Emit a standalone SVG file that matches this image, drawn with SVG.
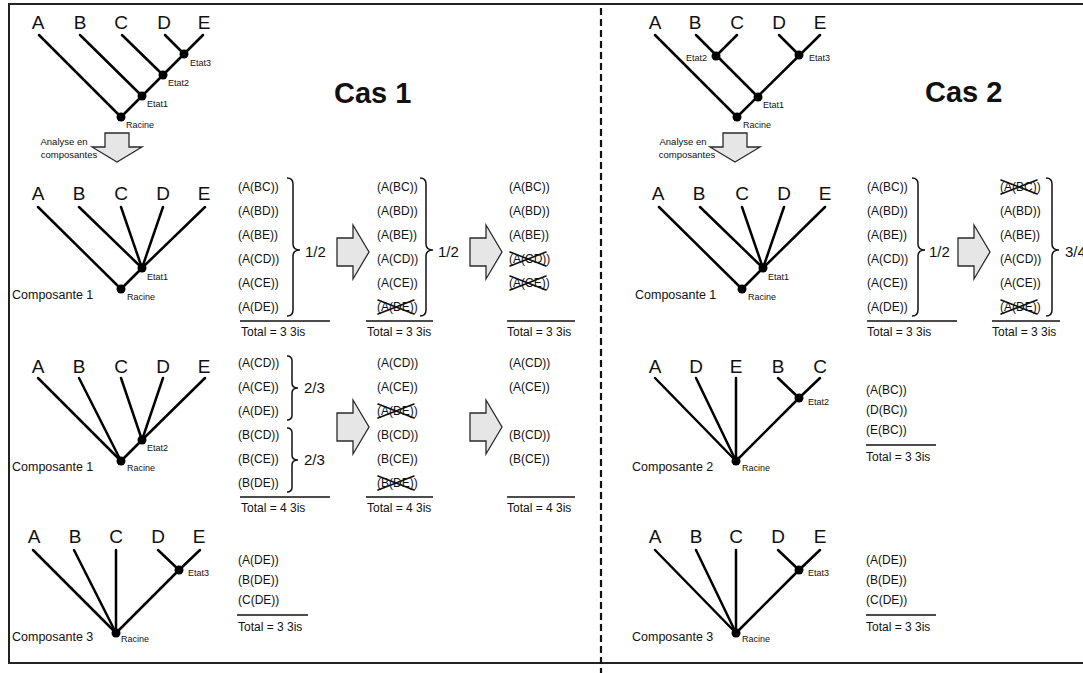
<svg xmlns="http://www.w3.org/2000/svg" width="1083" height="673" viewBox="0 0 1083 673">
  <style>
    text { font-family: "Liberation Sans", Arial, sans-serif; fill: #111; }
    .leaf { font-size: 19px; text-anchor: middle; }
    .lbl { font-size: 9px; }
    .lbl-end { font-size: 9px; text-anchor: end; }
    .comp { font-size: 12.5px; }
    .it { font-size: 12px; }
    .frac { font-size: 15px; }
    .title { font-size: 29px; font-weight: bold; }
    .note { font-size: 9.5px; text-anchor: middle; }
    .edge { stroke: #000; stroke-width: 2.5; stroke-linecap: round; fill: none; }
    .dot { fill: #000; }
    .rule { stroke: #111; stroke-width: 1.6; }
    .brace { fill: none; stroke: #111; stroke-width: 1.5; }
    .blk { fill: #e6e6e6; stroke: #2a2a2a; stroke-width: 1.3; }
    .x { stroke: #111; stroke-width: 1.6; stroke-linecap: round; }
    .frame { stroke: #222; stroke-width: 2; fill: none; }
    .split { stroke: #111; stroke-width: 2.2; stroke-dasharray: 7 4; }
  </style>
  <defs>
    <!-- right-pointing block arrow, origin at its left/centre -->
    <polygon id="arrowR" class="blk" points="0,-14 16,-14 16,-27 32,0 16,27 16,14 0,14"/>
    <!-- downward block arrow, origin at its top/centre -->
    <polygon id="arrowD" class="blk" points="-12,0 12,0 12,14 25,14 0,29 -25,14 -12,14"/>
    <!-- X used to strike out a term -->
    <g id="strike">
      <line class="x" x1="1" y1="-11" x2="37" y2="3"/>
      <line class="x" x1="1" y1="3" x2="37" y2="-11"/>
    </g>
  </defs>

  <rect width="1083" height="673" fill="#fff"/>

  <!-- outer frame and column separator -->
  <g id="frame">
    <polyline class="frame" points="1083,4 9,4 9,663 1083,663"/>
    <line class="split" x1="601" y1="8" x2="601" y2="673"/>
  </g>

  <!-- ================= Cas 1 ================= -->
  <text class="title" x="334" y="103">Cas 1</text>

  <!-- full tree -->
  <g id="c1-tree">
    <g id="c1-tree-edges">
      <line class="edge" x1="39" y1="35" x2="121" y2="117"/>
      <line class="edge" x1="80" y1="35" x2="142" y2="96"/>
      <line class="edge" x1="122" y1="35" x2="163" y2="75"/>
      <line class="edge" x1="165" y1="35" x2="184" y2="54"/>
      <line class="edge" x1="203" y1="35" x2="121" y2="117"/>
    </g>
    <g id="c1-tree-leaves">
      <text class="leaf" x="38" y="29">A</text>
      <text class="leaf" x="80" y="29">B</text>
      <text class="leaf" x="121" y="29">C</text>
      <text class="leaf" x="164" y="29">D</text>
      <text class="leaf" x="204" y="29">E</text>
    </g>
    <g id="c1-tree-etat3"><circle class="dot" cx="184" cy="54" r="4.5"/><text class="lbl" x="190" y="66">Etat3</text></g>
    <g id="c1-tree-etat2"><circle class="dot" cx="163" cy="75" r="4.5"/><text class="lbl" x="168" y="86">Etat2</text></g>
    <g id="c1-tree-etat1"><circle class="dot" cx="142" cy="96" r="4.5"/><text class="lbl" x="147" y="107">Etat1</text></g>
    <g id="c1-tree-racine"><circle class="dot" cx="121" cy="117" r="4.5"/><text class="lbl" x="126" y="128">Racine</text></g>
  </g>

  <g id="c1-analyse">
    <text class="note" x="64" y="145">Analyse en</text>
    <text class="note" x="69" y="158">composantes</text>
    <use href="#arrowD" x="117" y="133"/>
  </g>

  <!-- composante 1 (Etat1) -->
  <g id="c1-comp1">
    <g id="c1-comp1-edges">
      <line class="edge" x1="38" y1="207" x2="121" y2="289"/>
      <line class="edge" x1="79" y1="207" x2="142" y2="268"/>
      <line class="edge" x1="121" y1="207" x2="142" y2="268"/>
      <line class="edge" x1="163" y1="207" x2="142" y2="268"/>
      <line class="edge" x1="205" y1="207" x2="142" y2="268"/>
      <line class="edge" x1="142" y1="268" x2="121" y2="289"/>
    </g>
    <g id="c1-comp1-leaves">
      <text class="leaf" x="38" y="200">A</text>
      <text class="leaf" x="79" y="200">B</text>
      <text class="leaf" x="121" y="200">C</text>
      <text class="leaf" x="163" y="200">D</text>
      <text class="leaf" x="204" y="200">E</text>
    </g>
    <g id="c1-comp1-etat1"><circle class="dot" cx="142" cy="268" r="4.5"/><text class="lbl" x="147" y="280">Etat1</text></g>
    <g id="c1-comp1-racine"><circle class="dot" cx="121" cy="289" r="4.5"/><text class="lbl" x="127" y="300">Racine</text></g>
    <text class="comp" x="12" y="299">Composante 1</text>
  </g>

  <g id="c1-comp1-terms">
    <g class="it">
      <text class="it" x="238" y="191">(A(BC))</text>
      <text class="it" x="238" y="215">(A(BD))</text>
      <text class="it" x="238" y="239">(A(BE))</text>
      <text class="it" x="238" y="263">(A(CD))</text>
      <text class="it" x="238" y="287">(A(CE))</text>
      <text class="it" x="238" y="311">(A(DE))</text>
    </g>
    <path class="brace" d="M287,178 Q293,178 293,184 L293,244 Q293,250 300,250 Q293,250 293,256 L293,310 Q293,316 287,316"/>
    <text class="frac" x="305" y="257">1/2</text>
    <line class="rule" x1="240" y1="321" x2="330" y2="321"/>
    <text class="it" x="241" y="336">Total = 3 3is</text>

    <use href="#arrowR" x="337" y="252"/>

    <text class="it" x="377" y="191">(A(BC))</text>
    <text class="it" x="377" y="215">(A(BD))</text>
    <text class="it" x="377" y="239">(A(BE))</text>
    <text class="it" x="377" y="263">(A(CD))</text>
    <text class="it" x="377" y="287">(A(CE))</text>
    <text class="it" x="377" y="311">(A(DE))</text>
    <use href="#strike" x="377" y="311"/>
    <path class="brace" d="M420,178 Q426,178 426,184 L426,244 Q426,250 433,250 Q426,250 426,256 L426,310 Q426,316 420,316"/>
    <text class="frac" x="438" y="257">1/2</text>
    <line class="rule" x1="366" y1="321" x2="433" y2="321"/>
    <text class="it" x="367" y="336">Total = 3 3is</text>

    <use href="#arrowR" x="470" y="252"/>

    <text class="it" x="509" y="191">(A(BC))</text>
    <text class="it" x="509" y="215">(A(BD))</text>
    <text class="it" x="509" y="239">(A(BE))</text>
    <text class="it" x="509" y="263">(A(CD))</text>
    <use href="#strike" x="509" y="263"/>
    <text class="it" x="509" y="287">(A(CE))</text>
    <use href="#strike" x="509" y="287"/>
    <line class="rule" x1="507" y1="321" x2="575" y2="321"/>
    <text class="it" x="507" y="336">Total = 3 3is</text>
  </g>

  <!-- composante (Etat2) -->
  <g id="c1-comp2">
    <g id="c1-comp2-edges">
      <line class="edge" x1="38" y1="378" x2="121" y2="461"/>
      <line class="edge" x1="79" y1="378" x2="121" y2="461"/>
      <line class="edge" x1="121" y1="378" x2="142" y2="440"/>
      <line class="edge" x1="163" y1="378" x2="142" y2="440"/>
      <line class="edge" x1="205" y1="378" x2="142" y2="440"/>
      <line class="edge" x1="142" y1="440" x2="121" y2="461"/>
    </g>
    <g id="c1-comp2-leaves">
      <text class="leaf" x="38" y="373">A</text>
      <text class="leaf" x="79" y="373">B</text>
      <text class="leaf" x="121" y="373">C</text>
      <text class="leaf" x="163" y="373">D</text>
      <text class="leaf" x="204" y="373">E</text>
    </g>
    <g id="c1-comp2-etat2"><circle class="dot" cx="142" cy="440" r="4.5"/><text class="lbl" x="147" y="451">Etat2</text></g>
    <g id="c1-comp2-racine"><circle class="dot" cx="121" cy="461" r="4.5"/><text class="lbl" x="127" y="471">Racine</text></g>
    <text class="comp" x="12" y="471">Composante 1</text>
  </g>

  <g id="c1-comp2-terms">
    <text class="it" x="238" y="367">(A(CD))</text>
    <text class="it" x="238" y="391">(A(CE))</text>
    <text class="it" x="238" y="415">(A(DE))</text>
    <text class="it" x="238" y="439">(B(CD))</text>
    <text class="it" x="238" y="463">(B(CE))</text>
    <text class="it" x="238" y="487">(B(DE))</text>
    <path class="brace" d="M287,356 Q292,356 292,361 L292,383 Q292,388 298,388 Q292,388 292,393 L292,415 Q292,420 287,420"/>
    <path class="brace" d="M287,428 Q292,428 292,433 L292,455 Q292,460 298,460 Q292,460 292,465 L292,487 Q292,492 287,492"/>
    <text class="frac" x="304" y="393">2/3</text>
    <text class="frac" x="304" y="465">2/3</text>
    <line class="rule" x1="240" y1="497" x2="330" y2="497"/>
    <text class="it" x="241" y="512">Total = 4 3is</text>

    <use href="#arrowR" x="337" y="427"/>

    <text class="it" x="377" y="367">(A(CD))</text>
    <text class="it" x="377" y="391">(A(CE))</text>
    <text class="it" x="377" y="415">(A(DE))</text>
    <use href="#strike" x="377" y="415"/>
    <text class="it" x="377" y="439">(B(CD))</text>
    <text class="it" x="377" y="463">(B(CE))</text>
    <text class="it" x="377" y="487">(B(DE))</text>
    <use href="#strike" x="377" y="487"/>
    <line class="rule" x1="366" y1="497" x2="433" y2="497"/>
    <text class="it" x="367" y="512">Total = 4 3is</text>

    <use href="#arrowR" x="470" y="427"/>

    <text class="it" x="509" y="367">(A(CD))</text>
    <text class="it" x="509" y="391">(A(CE))</text>
    <text class="it" x="509" y="439">(B(CD))</text>
    <text class="it" x="509" y="463">(B(CE))</text>
    <line class="rule" x1="507" y1="497" x2="575" y2="497"/>
    <text class="it" x="507" y="512">Total = 4 3is</text>
  </g>

  <!-- composante 3 (Etat3) -->
  <g id="c1-comp3">
    <g id="c1-comp3-edges">
      <line class="edge" x1="33" y1="550" x2="116" y2="633"/>
      <line class="edge" x1="74" y1="550" x2="116" y2="633"/>
      <line class="edge" x1="116" y1="550" x2="116" y2="633"/>
      <line class="edge" x1="158" y1="550" x2="179" y2="570"/>
      <line class="edge" x1="200" y1="550" x2="179" y2="570"/>
      <line class="edge" x1="179" y1="570" x2="116" y2="633"/>
    </g>
    <g id="c1-comp3-leaves">
      <text class="leaf" x="34" y="543">A</text>
      <text class="leaf" x="75" y="543">B</text>
      <text class="leaf" x="116" y="543">C</text>
      <text class="leaf" x="158" y="543">D</text>
      <text class="leaf" x="199" y="543">E</text>
    </g>
    <g id="c1-comp3-etat3"><circle class="dot" cx="179" cy="570" r="4.5"/><text class="lbl" x="188" y="576">Etat3</text></g>
    <g id="c1-comp3-racine"><circle class="dot" cx="116" cy="633" r="4.5"/><text class="lbl" x="121" y="642">Racine</text></g>
    <text class="comp" x="12" y="641">Composante 3</text>
  </g>

  <g id="c1-comp3-terms">
    <text class="it" x="238" y="564">(A(DE))</text>
    <text class="it" x="238" y="584">(B(DE))</text>
    <text class="it" x="238" y="604">(C(DE))</text>
    <line class="rule" x1="237" y1="615" x2="308" y2="615"/>
    <text class="it" x="238" y="631">Total = 3 3is</text>
  </g>

  <!-- ================= Cas 2 ================= -->
  <text class="title" x="925" y="102">Cas 2</text>

  <g id="c2-tree">
    <g id="c2-tree-edges">
      <line class="edge" x1="655" y1="35" x2="737" y2="117"/>
      <line class="edge" x1="696" y1="35" x2="758" y2="97"/>
      <line class="edge" x1="737" y1="35" x2="716" y2="56"/>
      <line class="edge" x1="779" y1="35" x2="799" y2="55"/>
      <line class="edge" x1="820" y1="35" x2="737" y2="117"/>
    </g>
    <g id="c2-tree-leaves">
      <text class="leaf" x="655" y="29">A</text>
      <text class="leaf" x="695" y="29">B</text>
      <text class="leaf" x="737" y="29">C</text>
      <text class="leaf" x="779" y="29">D</text>
      <text class="leaf" x="820" y="29">E</text>
    </g>
    <g id="c2-tree-etat2"><circle class="dot" cx="716" cy="56" r="4.5"/><text class="lbl-end" x="707" y="61">Etat2</text></g>
    <g id="c2-tree-etat3"><circle class="dot" cx="799" cy="55" r="4.5"/><text class="lbl" x="809" y="61">Etat3</text></g>
    <g id="c2-tree-etat1"><circle class="dot" cx="758" cy="97" r="4.5"/><text class="lbl" x="763" y="108">Etat1</text></g>
    <g id="c2-tree-racine"><circle class="dot" cx="737" cy="117" r="4.5"/><text class="lbl" x="743" y="128">Racine</text></g>
  </g>

  <g id="c2-analyse">
    <text class="note" x="683" y="145">Analyse en</text>
    <text class="note" x="687" y="158">composantes</text>
    <use href="#arrowD" x="735" y="133"/>
  </g>

  <g id="c2-comp1">
    <g id="c2-comp1-edges">
      <line class="edge" x1="659" y1="207" x2="742" y2="289"/>
      <line class="edge" x1="700" y1="207" x2="763" y2="268"/>
      <line class="edge" x1="742" y1="207" x2="763" y2="268"/>
      <line class="edge" x1="784" y1="207" x2="763" y2="268"/>
      <line class="edge" x1="825" y1="207" x2="763" y2="268"/>
      <line class="edge" x1="763" y1="268" x2="742" y2="289"/>
    </g>
    <g id="c2-comp1-leaves">
      <text class="leaf" x="658" y="200">A</text>
      <text class="leaf" x="699" y="200">B</text>
      <text class="leaf" x="742" y="200">C</text>
      <text class="leaf" x="784" y="200">D</text>
      <text class="leaf" x="825" y="200">E</text>
    </g>
    <g id="c2-comp1-etat1"><circle class="dot" cx="763" cy="268" r="4.5"/><text class="lbl" x="768" y="280">Etat1</text></g>
    <g id="c2-comp1-racine"><circle class="dot" cx="742" cy="289" r="4.5"/><text class="lbl" x="748" y="300">Racine</text></g>
    <text class="comp" x="635" y="299">Composante 1</text>
  </g>

  <g id="c2-comp1-terms">
    <text class="it" x="867" y="191">(A(BC))</text>
    <text class="it" x="867" y="215">(A(BD))</text>
    <text class="it" x="867" y="239">(A(BE))</text>
    <text class="it" x="867" y="263">(A(CD))</text>
    <text class="it" x="867" y="287">(A(CE))</text>
    <text class="it" x="867" y="311">(A(DE))</text>
    <path class="brace" d="M912,178 Q918,178 918,184 L918,244 Q918,250 925,250 Q918,250 918,256 L918,310 Q918,316 912,316"/>
    <text class="frac" x="929" y="257">1/2</text>
    <line class="rule" x1="867" y1="321" x2="957" y2="321"/>
    <text class="it" x="867" y="336">Total = 3 3is</text>

    <use href="#arrowR" x="958" y="252"/>

    <text class="it" x="1000" y="191">(A(BC))</text>
    <use href="#strike" x="1000" y="191"/>
    <text class="it" x="1000" y="215">(A(BD))</text>
    <text class="it" x="1000" y="239">(A(BE))</text>
    <text class="it" x="1000" y="263">(A(CD))</text>
    <text class="it" x="1000" y="287">(A(CE))</text>
    <text class="it" x="1000" y="311">(A(DE))</text>
    <use href="#strike" x="1000" y="311"/>
    <path class="brace" d="M1046,178 Q1052,178 1052,184 L1052,244 Q1052,250 1059,250 Q1052,250 1052,256 L1052,310 Q1052,316 1046,316"/>
    <text class="frac" x="1065" y="257">3/4</text>
    <line class="rule" x1="992" y1="321" x2="1060" y2="321"/>
    <text class="it" x="992" y="336">Total = 3 3is</text>
  </g>

  <g id="c2-comp2">
    <g id="c2-comp2-edges">
      <line class="edge" x1="655" y1="378" x2="736" y2="461"/>
      <line class="edge" x1="696" y1="378" x2="736" y2="461"/>
      <line class="edge" x1="736" y1="378" x2="736" y2="461"/>
      <line class="edge" x1="778" y1="378" x2="799" y2="398"/>
      <line class="edge" x1="820" y1="378" x2="799" y2="398"/>
      <line class="edge" x1="799" y1="398" x2="736" y2="461"/>
    </g>
    <g id="c2-comp2-leaves">
      <text class="leaf" x="655" y="373">A</text>
      <text class="leaf" x="696" y="373">D</text>
      <text class="leaf" x="736" y="373">E</text>
      <text class="leaf" x="778" y="373">B</text>
      <text class="leaf" x="820" y="373">C</text>
    </g>
    <g id="c2-comp2-etat2"><circle class="dot" cx="799" cy="398" r="4.5"/><text class="lbl" x="808" y="405">Etat2</text></g>
    <g id="c2-comp2-racine"><circle class="dot" cx="736" cy="461" r="4.5"/><text class="lbl" x="742" y="471">Racine</text></g>
    <text class="comp" x="632" y="471">Composante 2</text>
  </g>

  <g id="c2-comp2-terms">
    <text class="it" x="866" y="394">(A(BC))</text>
    <text class="it" x="866" y="414">(D(BC))</text>
    <text class="it" x="866" y="434">(E(BC))</text>
    <line class="rule" x1="866" y1="445" x2="936" y2="445"/>
    <text class="it" x="866" y="461">Total = 3 3is</text>
  </g>

  <g id="c2-comp3">
    <g id="c2-comp3-edges">
      <line class="edge" x1="655" y1="550" x2="736" y2="633"/>
      <line class="edge" x1="696" y1="550" x2="736" y2="633"/>
      <line class="edge" x1="736" y1="550" x2="736" y2="633"/>
      <line class="edge" x1="778" y1="550" x2="799" y2="570"/>
      <line class="edge" x1="820" y1="550" x2="799" y2="570"/>
      <line class="edge" x1="799" y1="570" x2="736" y2="633"/>
    </g>
    <g id="c2-comp3-leaves">
      <text class="leaf" x="655" y="543">A</text>
      <text class="leaf" x="696" y="543">B</text>
      <text class="leaf" x="736" y="543">C</text>
      <text class="leaf" x="778" y="543">D</text>
      <text class="leaf" x="820" y="543">E</text>
    </g>
    <g id="c2-comp3-etat3"><circle class="dot" cx="799" cy="570" r="4.5"/><text class="lbl" x="808" y="576">Etat3</text></g>
    <g id="c2-comp3-racine"><circle class="dot" cx="736" cy="633" r="4.5"/><text class="lbl" x="742" y="642">Racine</text></g>
    <text class="comp" x="632" y="641">Composante 3</text>
  </g>

  <g id="c2-comp3-terms">
    <text class="it" x="866" y="564">(A(DE))</text>
    <text class="it" x="866" y="584">(B(DE))</text>
    <text class="it" x="866" y="604">(C(DE))</text>
    <line class="rule" x1="866" y1="615" x2="936" y2="615"/>
    <text class="it" x="866" y="631">Total = 3 3is</text>
  </g>
</svg>
